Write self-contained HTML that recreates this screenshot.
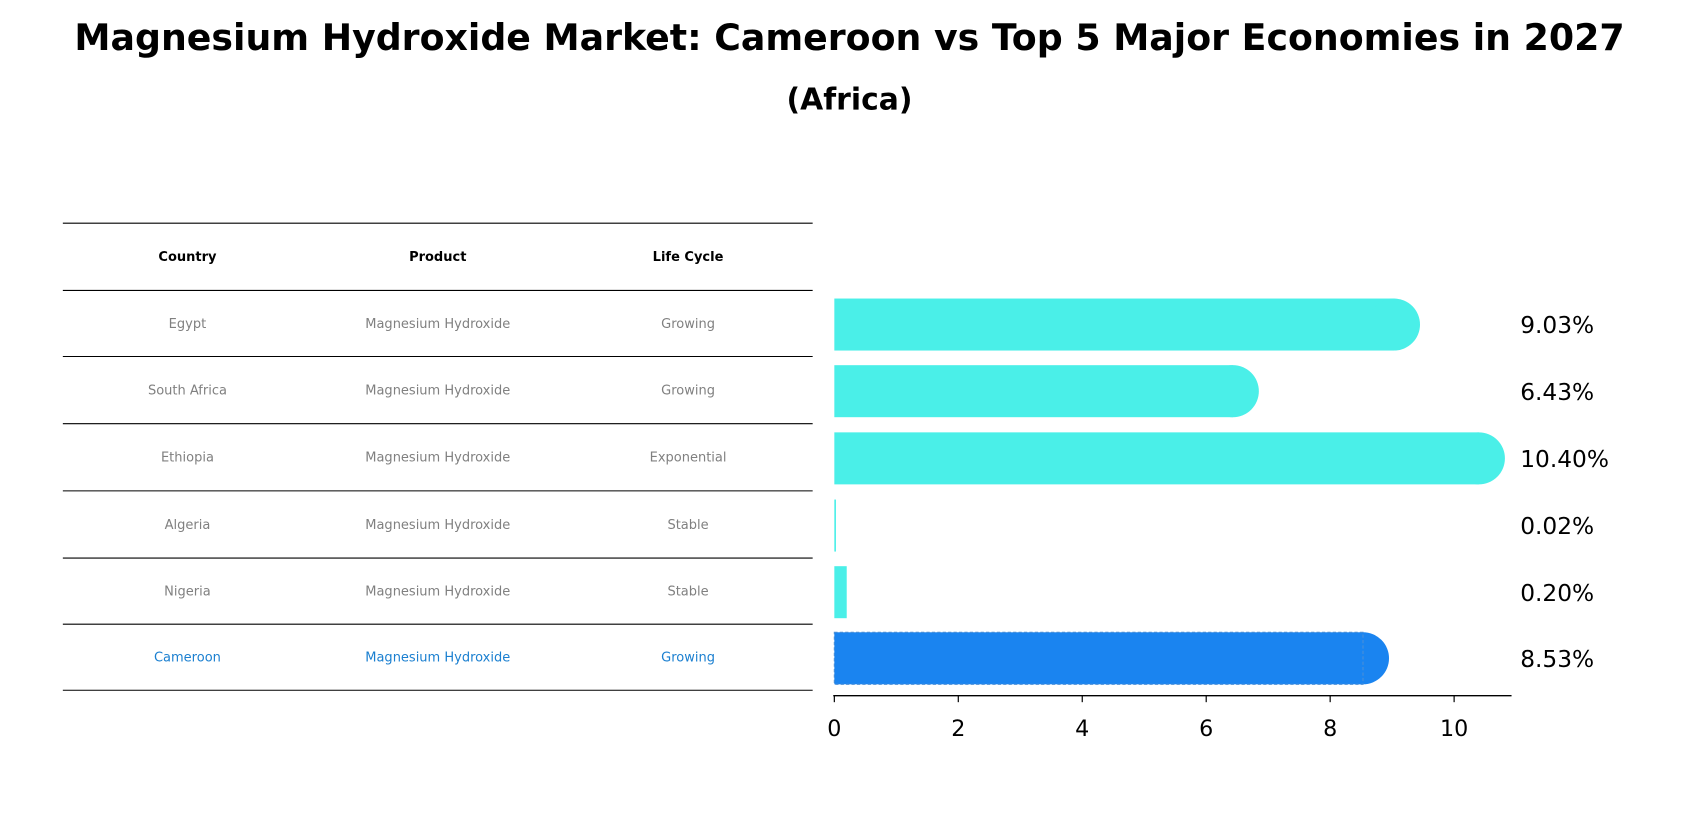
<!DOCTYPE html>
<html><head><meta charset="utf-8"><style>
body{margin:0;background:#fff;font-family:"Liberation Sans","DejaVu Sans",sans-serif}
</style></head><body>
<svg id="c" width="1699" height="823" viewBox="0 0 1568 759.5" preserveAspectRatio="none" xmlns="http://www.w3.org/2000/svg" font-family="DejaVu Sans, Liberation Sans, sans-serif">
<text x="784" y="46" text-anchor="middle" font-size="33.5" font-weight="bold">Magnesium Hydroxide Market: Cameroon vs Top 5 Major Economies in 2027</text>
<text x="784" y="101" text-anchor="middle" font-size="27.5" font-weight="bold">(Africa)</text>
<g id="tbl"></g>
<g id="bars"></g>
</svg>
<script>
const countries=["Egypt","South Africa","Ethiopia","Algeria","Nigeria","Cameroon"];
const products=["Magnesium Hydroxide","Magnesium Hydroxide","Magnesium Hydroxide","Magnesium Hydroxide","Magnesium Hydroxide","Magnesium Hydroxide"];
const cycles=["Growing","Growing","Exponential","Stable","Stable","Growing"];
const values=[9.03,6.43,10.40,0.02,0.20,8.53];
const labels=["9.03%","6.43%","10.40%","0.02%","0.20%","8.53%"];
const ticks=[0,2,4,6,8,10];
const NS="http://www.w3.org/2000/svg";
function mk(t,a,p,txt){const e=document.createElementNS(NS,t);for(const k in a)e.setAttribute(k,a[k]);if(txt!==undefined)e.textContent=txt;p.appendChild(e);return e;}
const tbl=document.getElementById('tbl'),bars=document.getElementById('bars');
const x=v=>770+v*57.2;
const lines=[206,268,329,391,453,515,576,637];
lines.forEach((y,i)=>{const l=mk('line',{x1:58,x2:750,y1:y,y2:y,stroke:'#000','stroke-width':1},tbl);

});
const cx=[173,404,635];
["Country","Product","Life Cycle"].forEach((h,j)=>{const t=mk('text',{x:cx[j],y:241,'text-anchor':'middle','font-size':12,'font-weight':'bold'},tbl,h);

});
countries.forEach((c,i)=>{const y=(lines[i+1]+lines[i+2])/2+4;const col=i==5?'#1a7fd0':'#808080';
[c,products[i],cycles[i]].forEach((s,j)=>{const t=mk('text',{x:cx[j],y:y,'text-anchor':'middle','font-size':12,fill:col},tbl,s);

});});
const h=48;
values.forEach((v,i)=>{const cy=(lines[i+1]+lines[i+2])/2+1;const col=i==5?'#1a84f0':'#4aefe8';
const g=mk('g',{},bars);


mk('rect',{x:x(0),y:cy-h/2,width:Math.max(x(v)-x(0),1.5),height:h,fill:col},g);
if(v>1)mk('circle',{cx:x(v),cy:cy,r:h/2,fill:col},g);
if(i==5)mk('rect',{x:x(0),y:cy-h/2,width:x(v)-x(0),height:h,fill:'none',stroke:'#4a8fd8','stroke-dasharray':'3,2','stroke-width':1},g);
const t=mk('text',{x:1403,y:cy+8,'font-size':21.5},bars,labels[i]);

});
const ax=mk('line',{x1:769,x2:1395,y1:642,y2:642,stroke:'#000','stroke-width':1.3},bars);


ticks.forEach(tv=>{const l=mk('line',{x1:x(tv),x2:x(tv),y1:642,y2:648,stroke:'#000','stroke-width':1.1},bars);


const t=mk('text',{x:x(tv),y:679,'text-anchor':'middle','font-size':20.5},bars,String(tv));

});
</script>
</body></html>
